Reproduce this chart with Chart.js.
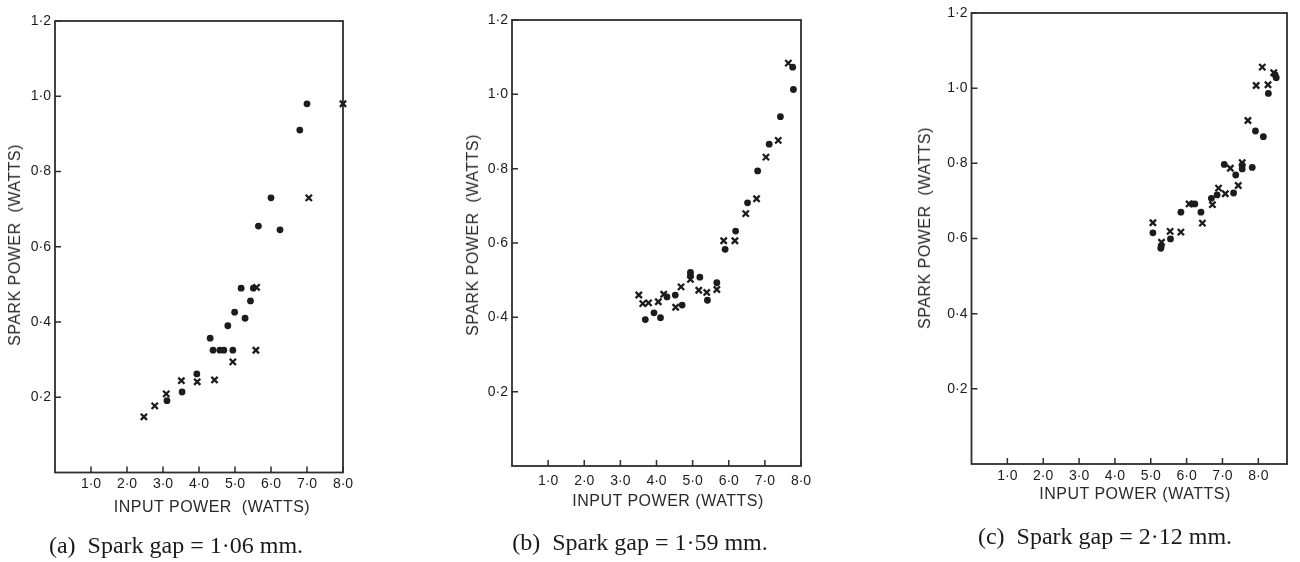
<!DOCTYPE html>
<html lang="en">

<head>
    <meta charset="UTF-8">
    <title>Spark power vs input power</title>
    <script src="https://cdn.jsdelivr.net/npm/chart.js"></script>
    <style>
        body {
            margin: 0;
            background: #fff;
            width: 1300px;
            height: 562px;
            overflow: hidden;
            position: relative;
        }

        canvas {
            position: absolute;
            left: 0;
            top: 0;
        }

        .axisTitle {
            position: absolute;
            font-family: "Liberation Sans", Arial, sans-serif;
            font-size: 16px;
            line-height: 16px;
            letter-spacing: 0.5px;
            color: #2a2a2a;
            white-space: pre;
            transform: translateX(-50%);
        }

        .yTitle {
            transform: translate(-50%, -50%) rotate(-90deg);
        }

        .caption {
            position: absolute;
            font-family: "Liberation Serif", "Times New Roman", serif;
            font-size: 24px;
            line-height: 24px;
            color: #1a1a1a;
            white-space: pre;
            transform: translateX(-50%);
        }
    </style>
</head>

<body>
    <canvas id="chartA" width="1300" height="562"></canvas>
    <canvas id="chartB" width="1300" height="562"></canvas>
    <canvas id="chartC" width="1300" height="562"></canvas>

    <div class="axisTitle" style="left:212px; top:499px;">INPUT POWER  (WATTS)</div>
    <div class="axisTitle" style="left:668px; top:493px;">INPUT POWER (WATTS)</div>
    <div class="axisTitle" style="left:1135px; top:486px;">INPUT POWER (WATTS)</div>

    <div class="axisTitle yTitle" style="left:15px; top:245px;">SPARK POWER  (WATTS)</div>
    <div class="axisTitle yTitle" style="left:473px; top:235px;">SPARK POWER  (WATTS)</div>
    <div class="axisTitle yTitle" style="left:925px; top:228px;">SPARK POWER  (WATTS)</div>

    <div class="caption" style="left:176px; top:533px;">(a)  Spark gap = 1·06 mm.</div>
    <div class="caption" style="left:640px; top:530px;">(b)  Spark gap = 1·59 mm.</div>
    <div class="caption" style="left:1105px; top:524px;">(c)  Spark gap = 2·12 mm.</div>

    <script>
        // tick values shared by the three panels
        const xTickVals = [1, 2, 3, 4, 5, 6, 7, 8];
        const yTickVals = [0.2, 0.4, 0.6, 0.8, 1.0, 1.2];

        // (a) spark gap 1.06 mm
        const aDotX = [7.0, 6.8, 6.0, 5.65, 6.25, 5.17, 5.51, 5.43, 4.99, 5.28, 4.8, 4.31, 4.39, 4.58, 4.69, 4.94, 3.94, 3.53, 3.11];
        const aDotY = [0.98, 0.91, 0.73, 0.655, 0.645, 0.49, 0.49, 0.456, 0.426, 0.41, 0.39, 0.357, 0.325, 0.325, 0.325, 0.325, 0.262, 0.214, 0.191];
        const aCrossX = [8.0, 7.05, 5.6, 5.58, 4.94, 3.95, 3.51, 4.43, 3.09, 2.77, 2.47];
        const aCrossY = [0.98, 0.73, 0.492, 0.325, 0.294, 0.241, 0.244, 0.246, 0.209, 0.177, 0.148];

        // (b) spark gap 1.59 mm
        const bDotX = [7.77, 7.79, 7.43, 7.12, 6.8, 6.52, 6.19, 5.9, 4.94, 4.94, 5.2, 5.67, 5.41, 4.52, 4.71, 4.29, 4.11, 3.93, 3.69];
        const bDotY = [1.073, 1.013, 0.94, 0.866, 0.794, 0.708, 0.632, 0.583, 0.521, 0.512, 0.508, 0.493, 0.446, 0.46, 0.433, 0.455, 0.399, 0.412, 0.394];
        const bCrossX = [7.65, 7.37, 7.03, 6.77, 6.47, 6.17, 5.86, 4.94, 5.67, 5.17, 5.39, 4.68, 4.53, 4.2, 4.05, 3.51, 3.62, 3.78];
        const bCrossY = [1.084, 0.876, 0.831, 0.719, 0.679, 0.606, 0.606, 0.502, 0.475, 0.473, 0.467, 0.482, 0.427, 0.462, 0.442, 0.46, 0.437, 0.439];

        // (c) spark gap 2.12 mm
        const cDotX = [8.5, 8.47, 8.28, 7.92, 8.14, 7.05, 7.37, 7.55, 7.55, 7.83, 7.31, 6.85, 6.69, 6.4, 6.23, 6.15, 5.84, 5.55, 5.28, 5.29, 5.06];
        const cDotY = [1.028, 1.035, 0.986, 0.886, 0.871, 0.797, 0.769, 0.795, 0.785, 0.789, 0.721, 0.716, 0.707, 0.67, 0.692, 0.692, 0.67, 0.599, 0.574, 0.579, 0.615];
        const cCrossX = [8.11, 8.43, 7.94, 8.27, 7.71, 7.22, 7.55, 7.44, 7.08, 6.89, 6.72, 6.44, 6.07, 5.84, 5.54, 5.3, 5.06];
        const cCrossY = [1.056, 1.041, 1.007, 1.009, 0.914, 0.787, 0.802, 0.741, 0.719, 0.734, 0.69, 0.641, 0.692, 0.617, 0.619, 0.59, 0.642];

        const inkColor = '#1c1c1c';
        const lineColor = '#2e2e2e';

        // plot box on all four sides + short ticks pointing into the plot
        const framePlugin = {
            id: 'frame',
            beforeDatasetsDraw(chart) {
                const { ctx, chartArea: a, scales: { x, y } } = chart;
                ctx.save();
                ctx.strokeStyle = lineColor;
                ctx.lineWidth = 1.8;
                ctx.strokeRect(a.left, a.top, a.right - a.left, a.bottom - a.top);
                ctx.lineWidth = 1.5;
                ctx.beginPath();
                x.ticks.forEach(t => {
                    const px = x.getPixelForValue(t.value);
                    ctx.moveTo(px, a.bottom);
                    ctx.lineTo(px, a.bottom - 6);
                });
                y.ticks.forEach(t => {
                    const py = y.getPixelForValue(t.value);
                    ctx.moveTo(a.left, py);
                    ctx.lineTo(a.left + 6, py);
                });
                ctx.stroke();
                ctx.restore();
            }
        };

        const toPoints = (xs, ys) => xs.map((v, i) => ({ x: v, y: ys[i] }));
        const fmt = v => Number(v).toFixed(1).replace('.', '·');

        // box = where the plot area sits on the page
        function makePanel(id, box, dotX, dotY, crossX, crossY) {
            const yw = 40, xh = 30;
            new Chart(document.getElementById(id), {
                type: 'scatter',
                data: {
                    datasets: [{
                        data: toPoints(dotX, dotY),
                        pointStyle: 'circle',
                        pointRadius: 3.4,
                        backgroundColor: inkColor,
                        borderWidth: 0,
                        clip: false
                    }, {
                        data: toPoints(crossX, crossY),
                        pointStyle: 'crossRot',
                        pointRadius: 4.4,
                        borderColor: inkColor,
                        borderWidth: 2.3,
                        clip: false
                    }]
                },
                options: {
                    responsive: false,
                    animation: false,
                    events: [],
                    layout: {
                        padding: {
                            left: box.left - yw,
                            top: box.top,
                            right: 1300 - box.right,
                            bottom: 562 - box.bottom - xh
                        }
                    },
                    scales: {
                        x: {
                            type: 'linear',
                            min: 0,
                            max: box.xMax,
                            grid: { display: false, drawTicks: false },
                            border: { display: false },
                            afterBuildTicks: s => { s.ticks = xTickVals.map(v => ({ value: v })); },
                            afterFit: s => { s.height = xh; },
                            ticks: {
                                autoSkip: false,
                                maxRotation: 0,
                                padding: box.xPad,
                                color: inkColor,
                                font: { family: 'Liberation Sans', size: 14 },
                                callback: fmt
                            }
                        },
                        y: {
                            type: 'linear',
                            min: 0,
                            max: 1.2,
                            grid: { display: false, drawTicks: false },
                            border: { display: false },
                            afterBuildTicks: s => { s.ticks = yTickVals.map(v => ({ value: v })); },
                            afterFit: s => { s.width = yw; },
                            ticks: {
                                padding: 4,
                                color: inkColor,
                                font: { family: 'Liberation Sans', size: 14 },
                                callback: fmt
                            }
                        }
                    },
                    plugins: {
                        legend: { display: false },
                        tooltip: { enabled: false }
                    }
                },
                plugins: [framePlugin]
            });
        }

        makePanel('chartA', { left: 55, right: 343, top: 21, bottom: 472.5, xMax: 8.0, xPad: 3 }, aDotX, aDotY, aCrossX, aCrossY);
        makePanel('chartB', { left: 512, right: 801, top: 20, bottom: 466, xMax: 8.0, xPad: 7 }, bDotX, bDotY, bCrossX, bCrossY);
        makePanel('chartC', { left: 971.5, right: 1287, top: 13, bottom: 464, xMax: 8.8, xPad: 4 }, cDotX, cDotY, cCrossX, cCrossY);
    </script>
</body>

</html>
